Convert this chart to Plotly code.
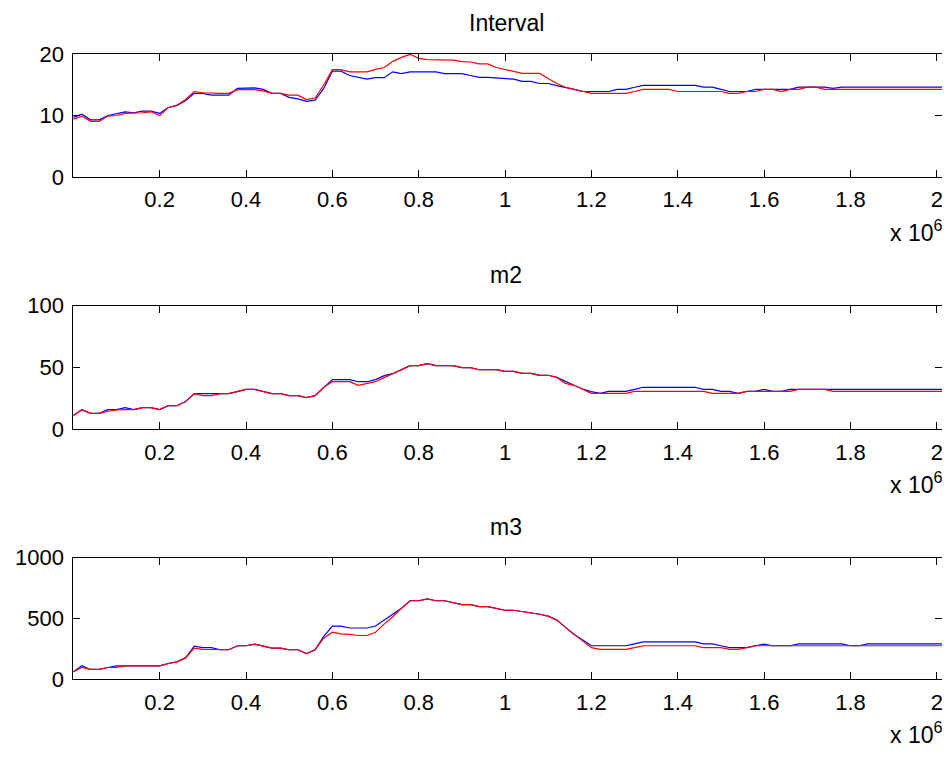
import plotly.graph_objects as go

# x positions (iterations), step 20000 plus final end point
x_vals = [i * 20000 for i in range(101)] + [2012000]

interval_blue = [9.7, 10.2, 9.3, 9.3, 10.0, 10.35, 10.6, 10.45, 10.7, 10.7,
                 10.35, 11.3, 11.65, 12.4, 13.6, 13.6, 13.3, 13.3, 13.3, 14.4,
                 14.5, 14.5, 14.25, 13.6, 13.6, 12.95, 12.7, 12.3, 12.5, 14.4,
                 17.2, 17.2, 16.5, 16.2, 15.9, 16.15, 16.15, 17.1, 16.8, 17.1,
                 17.1, 17.1, 17.1, 16.8, 16.8, 16.8, 16.5, 16.2, 16.2, 16.1,
                 15.9, 15.9, 15.55, 15.55, 15.2, 15.2, 14.85, 14.6, 14.25, 13.9,
                 13.9, 13.9, 13.9, 14.25, 14.25, 14.6, 14.9, 14.9, 14.9, 14.9,
                 14.9, 14.9, 14.9, 14.6, 14.6, 14.25, 13.9, 13.9, 13.9, 14.25,
                 14.25, 14.25, 14.25, 14.25, 14.6, 14.6, 14.6, 14.6, 14.4, 14.6,
                 14.6, 14.6, 14.6, 14.6, 14.6, 14.6, 14.6, 14.6, 14.6, 14.6,
                 14.6, 14.6]
interval_red = [9.4, 9.9, 9.05, 9.05, 9.9, 10.0, 10.35, 10.35, 10.45, 10.6,
                10.0, 11.3, 11.65, 12.6, 13.9, 13.7, 13.6, 13.6, 13.6, 14.2,
                14.2, 14.2, 14.0, 13.6, 13.6, 13.3, 13.3, 12.6, 12.85, 14.96,
                17.45, 17.45, 17.1, 17.1, 17.1, 17.5, 17.8, 18.8, 19.45, 19.95,
                19.3, 19.1, 19.1, 19.1, 19.0, 18.75, 18.7, 18.4, 18.4, 17.8,
                17.5, 17.2, 16.85, 16.85, 16.85, 16.0, 15.2, 14.6, 14.25, 13.9,
                13.6, 13.6, 13.6, 13.6, 13.6, 13.9, 14.25, 14.25, 14.25, 14.25,
                13.9, 13.9, 13.9, 13.9, 13.9, 13.9, 13.6, 13.6, 13.9, 13.9,
                14.25, 14.25, 13.9, 14.25, 14.25, 14.6, 14.6, 14.25, 14.25, 14.25,
                14.25, 14.25, 14.25, 14.25, 14.25, 14.25, 14.25, 14.25, 14.25, 14.25,
                14.25, 14.25]

m2_blue = [11.1, 15.9, 12.9, 12.9, 15.9, 15.9, 17.5, 15.9, 17.5, 17.5,
           15.9, 19.1, 19.1, 22.4, 28.8, 28.8, 28.8, 28.8, 28.8, 30.5,
           32.3, 32.3, 30.5, 28.8, 28.8, 27.2, 27.2, 25.6, 27.2, 34.0,
           40.2, 40.2, 40.2, 38.5, 38.5, 40.2, 43.4, 45.0, 48.5, 51.5,
           51.5, 53.1, 51.5, 51.5, 51.5, 49.9, 49.9, 48.2, 48.2, 48.2,
           46.9, 46.9, 45.3, 45.3, 43.7, 43.7, 42.0, 38.5, 35.6, 32.6,
           30.5, 29.1, 30.7, 30.7, 30.7, 32.3, 34.0, 34.0, 34.0, 34.0,
           34.0, 34.0, 34.0, 32.3, 32.3, 30.7, 30.7, 29.1, 30.7, 30.7,
           32.3, 30.7, 30.7, 32.3, 32.3, 32.3, 32.3, 32.3, 32.3, 32.3,
           32.3, 32.3, 32.3, 32.3, 32.3, 32.3, 32.3, 32.3, 32.3, 32.3,
           32.3, 32.3]
m2_red = [11.1, 15.9, 12.9, 12.9, 14.6, 15.6, 15.9, 15.9, 17.5, 17.5,
          15.9, 19.1, 19.1, 22.4, 28.8, 27.2, 27.2, 28.8, 28.8, 30.5,
          32.3, 32.3, 30.5, 28.8, 28.8, 27.2, 27.2, 25.6, 27.2, 34.0,
          38.5, 38.5, 38.5, 35.6, 36.9, 38.5, 41.8, 45.0, 48.5, 51.5,
          51.5, 53.1, 51.5, 51.5, 51.5, 49.9, 49.9, 48.2, 48.2, 48.2,
          46.9, 46.9, 45.3, 45.3, 43.7, 43.7, 42.0, 37.2, 35.6, 32.6,
          29.1, 29.1, 29.1, 29.1, 29.1, 30.7, 30.7, 30.7, 30.7, 30.7,
          30.7, 30.7, 30.7, 30.7, 29.1, 29.1, 29.1, 29.1, 30.7, 30.7,
          30.7, 30.7, 30.7, 30.7, 32.3, 32.3, 32.3, 32.3, 30.7, 30.7,
          30.7, 30.7, 30.7, 30.7, 30.7, 30.7, 30.7, 30.7, 30.7, 30.7,
          30.7, 30.7]

m3_blue = [62, 111, 81, 81, 97, 111, 111, 111, 111, 111,
           111, 130, 143, 176, 273, 260, 260, 243, 243, 276,
           276, 289, 273, 257, 257, 243, 243, 211, 243, 354,
           438, 438, 422, 422, 422, 438, 487, 535, 584, 646,
           646, 662, 646, 646, 630, 614, 614, 597, 597, 581,
           568, 568, 557, 551, 535, 519, 487, 427, 368, 324,
           276, 276, 276, 276, 276, 292, 308, 308, 308, 308,
           308, 308, 308, 292, 292, 276, 260, 260, 260, 276,
           289, 276, 276, 276, 292, 292, 292, 292, 292, 292,
           276, 276, 292, 292, 292, 292, 292, 292, 292, 292,
           292, 292]
m3_red = [62, 97, 81, 81, 97, 97, 111, 111, 111, 111,
          111, 130, 143, 176, 257, 246, 246, 243, 243, 276,
          276, 289, 273, 257, 257, 243, 243, 211, 243, 338,
          387, 373, 370, 360, 360, 387, 454, 514, 584, 646,
          646, 662, 646, 646, 630, 614, 614, 597, 597, 581,
          568, 568, 557, 551, 535, 519, 487, 427, 368, 314,
          260, 246, 246, 246, 246, 260, 276, 276, 276, 276,
          276, 276, 276, 260, 260, 260, 246, 246, 260, 276,
          276, 276, 276, 276, 276, 276, 276, 276, 276, 276,
          276, 276, 276, 276, 276, 276, 276, 276, 276, 276,
          276, 276]

titles = ["Interval", "m2", "m3"]
y_ranges = [[0, 20], [0, 100], [0, 1000]]
y_ticks = [[0, 10, 20], [0, 50, 100], [0, 500, 1000]]
x_tickvals = [200000, 400000, 600000, 800000, 1000000, 1200000, 1400000, 1600000, 1800000, 2000000]
x_ticktext = ["0.2", "0.4", "0.6", "0.8", "1", "1.2", "1.4", "1.6", "1.8", "2"]

OFF = 8  # default page body margin
W, H = 950 - OFF, 764 - 2 * OFF
FONT = "Arial, Liberation Sans, Helvetica, sans-serif"
# page-pixel geometry of each axes box (top, bottom)
boxes = [(54, 177), (305.7, 429.3), (557.7, 679.3)]
x_left, x_right = 73.3, 942


def px(v):
    return (v - OFF) / W


def py(v):
    return 1 - (v - OFF) / H


series = [(interval_blue, interval_red), (m2_blue, m2_red), (m3_blue, m3_red)]

fig = go.Figure()
layout = dict(width=W, height=H, margin=dict(l=0, r=0, t=0, b=0, pad=0),
              paper_bgcolor="white", plot_bgcolor="white", showlegend=False,
              font=dict(family=FONT, size=22, color="black"))
annotations = []
for i, (b, r) in enumerate(series):
    n = "" if i == 0 else str(i + 1)
    fig.add_trace(go.Scatter(x=x_vals, y=b, mode="lines", line=dict(color="#0000FF", width=1.2),
                             xaxis="x" + n, yaxis="y" + n, hoverinfo="skip"))
    fig.add_trace(go.Scatter(x=x_vals, y=r, mode="lines", line=dict(color="#FF0000", width=1.2),
                             xaxis="x" + n, yaxis="y" + n, hoverinfo="skip"))
    top, bot = boxes[i]
    common = dict(showline=True, linecolor="black", linewidth=1, mirror="ticks",
                  ticks="inside", ticklen=7, tickcolor="black", tickwidth=1, automargin=False,
                  ticklabeloverflow="allow",
                  showgrid=False, zeroline=False, tickfont=dict(family=FONT, size=22, color="black"))
    layout["xaxis" + n] = dict(domain=[px(x_left), px(x_right)], range=[0, 2012000],
                               tickvals=x_tickvals, ticktext=x_ticktext,
                               anchor="y" + n, ticklabelstandoff=3, **common)
    layout["yaxis" + n] = dict(domain=[py(bot), py(top)], range=y_ranges[i],
                               tickvals=y_ticks[i], anchor="x" + n, ticklabelstandoff=4, **common)
    annotations.append(dict(text=titles[i], x=px(506), y=py(top - 31), xref="paper", yref="paper",
                            xanchor="center", yanchor="middle", showarrow=False,
                            font=dict(family=FONT, size=23, color="black")))
    annotations.append(dict(text="x 10<sup>6</sup>", x=px(944), y=py(bot + 71), xref="paper",
                            yref="paper", xanchor="right", yanchor="bottom", showarrow=False,
                            font=dict(family=FONT, size=23, color="black")))
layout["annotations"] = annotations
fig.update_layout(**layout)
fig.write_html("out.html")
